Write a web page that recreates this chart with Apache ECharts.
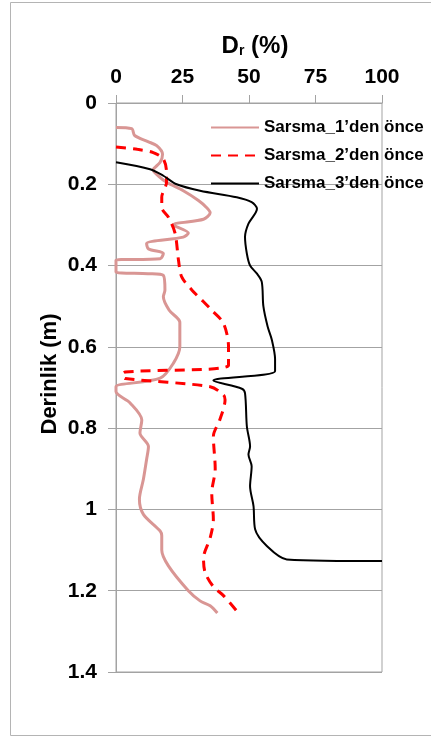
<!DOCTYPE html>
<html>
<head>
<meta charset="utf-8">
<script src="https://cdn.jsdelivr.net/npm/echarts@6/dist/echarts.min.js"></script>
<style>
  html, body { margin: 0; padding: 0; background: #fff; }
  #chart { width: 431px; height: 737px; }
</style>
</head>
<body>
<div id="chart"></div>
<script>
// Relative density profiles, [Dr %, depth m]
const seriesNames = ['Sarsma_1\u2019den önce', 'Sarsma_2\u2019den önce', 'Sarsma_3\u2019den önce'];

const sarsma1 = [
  [0, 0.06], [5.9, 0.063], [7, 0.08], [12, 0.095], [15.3, 0.105], [17.5, 0.126], [16.6, 0.146],
  [14, 0.165], [16, 0.18], [19, 0.195], [25.3, 0.216], [31, 0.24], [34, 0.257], [35.4, 0.27],
  [32.9, 0.286], [21.6, 0.3], [27.2, 0.32], [25.3, 0.33], [11.5, 0.346], [12.2, 0.359],
  [17.8, 0.37], [16.6, 0.383], [0, 0.387], [0, 0.416], [12, 0.42], [17.8, 0.424], [18.4, 0.46],
  [17.8, 0.477], [20, 0.51], [24, 0.54], [24, 0.6], [21.6, 0.64], [16.6, 0.677], [0, 0.698],
  [0, 0.71], [5.3, 0.738], [9.7, 0.78], [9, 0.812], [12.2, 0.845], [11.5, 0.877], [10.3, 0.926],
  [8.8, 0.975], [10.3, 1.012], [16.6, 1.053], [17.2, 1.065], [17.2, 1.1], [19.7, 1.139],
  [27.2, 1.2], [31.6, 1.225], [35.4, 1.237], [38.1, 1.255]
];

const sarsma2 = [
  [0, 0.108], [8, 0.114], [14, 0.122], [17.8, 0.138], [19, 0.171], [19, 0.195], [17.2, 0.232],
  [17.2, 0.257], [19.7, 0.281], [22.2, 0.32], [23.5, 0.387], [24.7, 0.428], [28.5, 0.46],
  [32.3, 0.485], [36, 0.51], [40.4, 0.542], [42.3, 0.6], [42.3, 0.645], [3.5, 0.662],
  [2.3, 0.67], [3.5, 0.678], [35.4, 0.698], [40.4, 0.718], [41, 0.73], [39, 0.78], [36.6, 0.82],
  [37.3, 0.9], [36, 0.96], [36.6, 1.025], [35.4, 1.07], [32.9, 1.12], [33.5, 1.155],
  [36.6, 1.19], [40.4, 1.212], [45.4, 1.25]
];

const sarsma3 = [
  [0, 0.146], [12.8, 0.163], [17.8, 0.179], [22.8, 0.2], [31.6, 0.216], [45.4, 0.232],
  [51, 0.244], [53, 0.26], [49.8, 0.297], [48.5, 0.33], [49.2, 0.371], [50.4, 0.4],
  [53, 0.42], [54.8, 0.44], [55.4, 0.5], [57, 0.55], [58.6, 0.583], [59.8, 0.63],
  [59.8, 0.66], [36.6, 0.683], [47.3, 0.703], [48.5, 0.714], [49.2, 0.796], [50.4, 0.845],
  [49.8, 0.865], [51, 0.894], [50.4, 0.943], [51.7, 0.992], [52.3, 1.049], [56.7, 1.09],
  [64.2, 1.123], [100, 1.127]
];

const xTicks = { min: 0, max: 100, interval: 25 };
const yTicks = { min: 0, max: 1.4, interval: 0.2 };

const FONT = '"Liberation Sans", Arial, sans-serif';
const GRID_GRAY = '#a3a3a3';

const chart = echarts.init(document.getElementById('chart'), null, { renderer: 'canvas' });

chart.setOption({
  animation: false,
  backgroundColor: '#fff',
  grid: {
    left: 116, right: 49, top: 103, bottom: 65,
    show: true, borderColor: GRID_GRAY, borderWidth: 1
  },
  xAxis: {
    type: 'value', position: 'top',
    min: xTicks.min, max: xTicks.max, interval: xTicks.interval,
    axisLine: { show: true, lineStyle: { color: GRID_GRAY, width: 1 } },
    axisTick: { show: true, length: 8, lineStyle: { color: GRID_GRAY } },
    splitLine: { show: false },
    axisLabel: { margin: 15, color: '#000', fontFamily: FONT, fontWeight: 'bold', fontSize: 21 }
  },
  yAxis: {
    type: 'value', inverse: true,
    min: yTicks.min, max: yTicks.max, interval: yTicks.interval,
    axisLine: { show: true, lineStyle: { color: GRID_GRAY, width: 1 } },
    axisTick: { show: true, length: 8, lineStyle: { color: GRID_GRAY } },
    splitLine: { show: true, lineStyle: { color: GRID_GRAY, width: 1 } },
    axisLabel: {
      margin: 19, color: '#000', fontFamily: FONT, fontWeight: 'bold', fontSize: 21,
      formatter: v => String(+v.toFixed(1))
    }
  },
  legend: {
    orient: 'vertical', left: 205, top: 114,
    itemWidth: 48, itemHeight: 14, itemGap: 11,
    itemStyle: { opacity: 0 },
    textStyle: { color: '#000', fontFamily: FONT, fontWeight: 'bold', fontSize: 17, lineHeight: 17 },
    data: seriesNames
  },
  graphic: [
    {
      type: 'rect', silent: true, z: -1,
      shape: { x: 10.5, y: 2.5, width: 440, height: 733 },
      style: { fill: null, stroke: '#b4b4b4', lineWidth: 1 }
    },
    {
      type: 'text', x: 255, y: 46,
      style: {
        text: '{a|D}{b|r}{a| (%)}',
        align: 'center', verticalAlign: 'middle',
        rich: {
          a: { fontFamily: FONT, fontWeight: 'bold', fontSize: 24, fill: '#000', verticalAlign: 'bottom' },
          b: { fontFamily: FONT, fontWeight: 'bold', fontSize: 14, fill: '#000', verticalAlign: 'bottom', padding: [6, 0, 0, 0] }
        }
      }
    },
    {
      type: 'text', x: 50, y: 374, rotation: Math.PI / 2,
      style: {
        text: 'Derinlik (m)', align: 'center', verticalAlign: 'middle',
        fontFamily: FONT, fontWeight: 'bold', fontSize: 22, fill: '#000'
      }
    }
  ],
  series: [
    {
      name: seriesNames[0], type: 'line', data: sarsma1,
      symbol: 'none', smooth: 0.3, z: 2,
      lineStyle: { color: '#d99694', width: 3 }, itemStyle: { color: '#d99694' }
    },
    {
      name: seriesNames[1], type: 'line', data: sarsma2,
      symbol: 'none', smooth: 0.3, z: 3,
      lineStyle: { color: '#ff0000', width: 3, type: [10, 7] }, itemStyle: { color: '#ff0000' }
    },
    {
      name: seriesNames[2], type: 'line', data: sarsma3,
      symbol: 'none', smooth: 0.3, z: 4,
      lineStyle: { color: '#000', width: 2 }, itemStyle: { color: '#000' }
    }
  ]
});
</script>
</body>
</html>
